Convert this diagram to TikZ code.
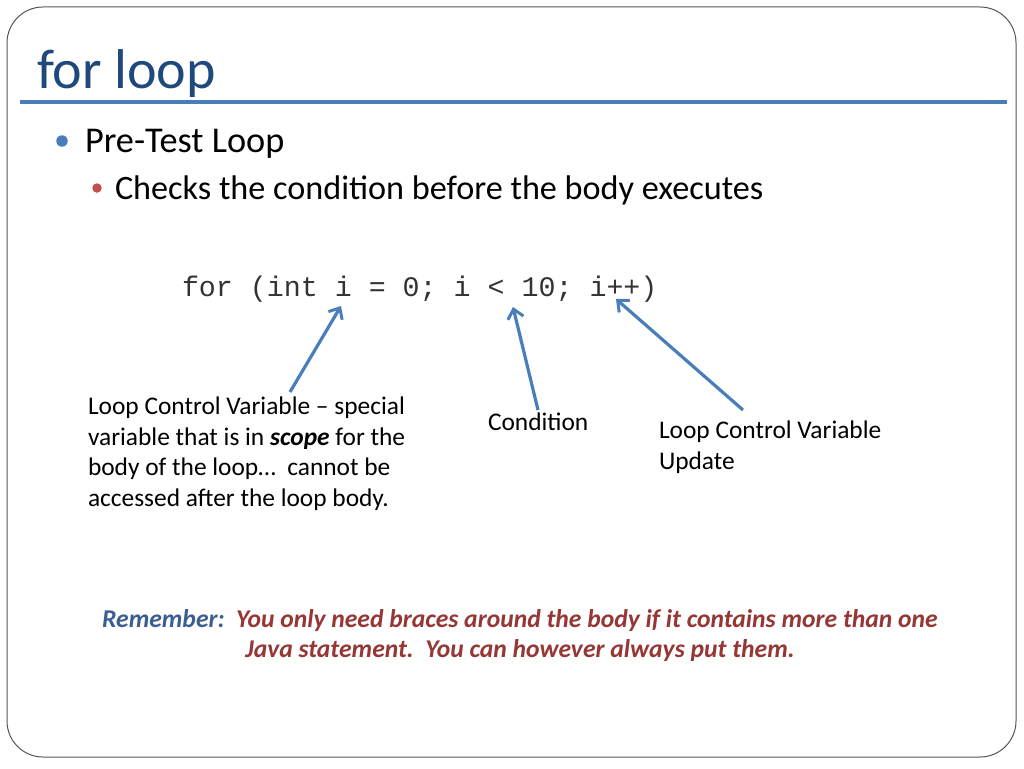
\documentclass[tikz,border=0pt]{standalone}
\usepackage{fontspec}
\setmainfont{Carlito}
\setmonofont{Liberation Mono}
\usetikzlibrary{arrows.meta}
\definecolor{titleblue}{HTML}{1F497D}
\definecolor{accentblue}{HTML}{4A7EBB}
\definecolor{bulletred}{HTML}{C0504D}
\definecolor{noteblue}{HTML}{3B5E91}
\definecolor{notered}{HTML}{953735}
\definecolor{framegray}{HTML}{555555}
\newcommand{\px}[2]{\fontsize{#1pt}{#2pt}\selectfont}
\tikzset{
  txt/.style={anchor=base west,inner sep=0pt,outer sep=0pt},
  note/.style={txt,align=left,font=\px{25.4}{30.4}},
  pointer/.style={draw=accentblue,line width=3.2pt,
    -{Straight Barb[length=9pt,width=16pt,line width=3pt]}},
  dot/.style={circle,inner sep=0pt,minimum size=#1}
}
\begin{document}
\begin{tikzpicture}[x=1pt,y=-1pt]
  \useasboundingbox (0,0) rectangle (1024,768);
  \fill[white] (0,0) rectangle (1024,768);
  \draw[framegray,line width=1pt,rounded corners=36pt] (7,7) rectangle (1016,757);
  % title
  \path (37,88) node[txt,text=titleblue,font=\px{56}{60}] (title) {for loop};
  \draw[accentblue,line width=3.5pt] (20,102) -- (1007,102);
  % bullets
  \path (62,141) node[dot=11.5pt,fill=accentblue] (b1) {};
  \path (85,152) node[txt,font=\px{36.3}{40}] (pretest) {Pre-Test Loop};
  \path (97,188) node[dot=9.5pt,fill=bulletred] (b2) {};
  \path (115,199) node[txt,font=\px{34.2}{40}] (checks) {Checks the condition before the body executes};
  % code line
  \path (182,296) node[txt,text=black!80,font=\ttfamily\px{28.3}{32}] (code) {for (int i = 0; i < 10; i++)};
  \coordinate (ivar) at (341,306);
  \coordinate (cond) at (513,307);
  \coordinate (incr) at (616,299);
  % labels (base = last line)
  \path (88,506) node[note] (lcv) {Loop Control Variable -- special\\
    variable that is in \textbf{\textit{scope}} for the\\
    body of the loop\dots\ \ cannot be\\
    accessed after the loop body.};
  \path (488,430) node[note] (condlbl) {Condition};
  \path (659,469) node[note] (update) {Loop Control Variable\\Update};
  \coordinate (lcvtail) at (290,392);
  \coordinate (condtail) at (538,410);
  \coordinate (updtail) at (743,410);
  \draw[pointer] (lcvtail) -- (ivar);
  \draw[pointer] (condtail) -- (cond);
  \draw[pointer] (updtail) -- (incr);
  % reminder
  \path (520,657) node[anchor=base,inner sep=0pt,align=center,font=\bfseries\itshape\px{25.6}{30}] (remember)
    {\textcolor{noteblue}{Remember:}\ \ \textcolor{notered}{You only need braces around the body if it contains more than one}\\
     \textcolor{notered}{Java statement.\ \ You can however always put them.}};
\end{tikzpicture}
\end{document}
